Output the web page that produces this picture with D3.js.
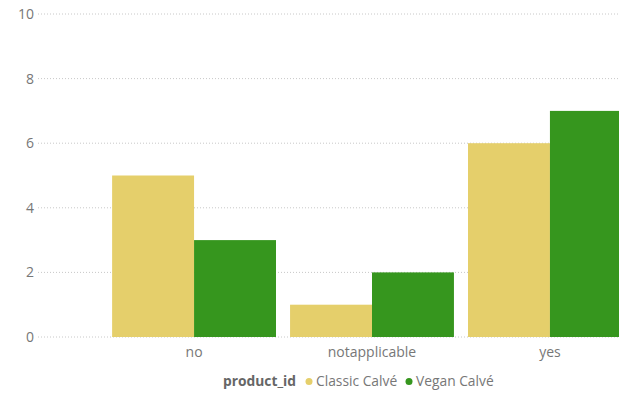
<!DOCTYPE html>
<html>
<meta charset="utf-8">
<style>
  body { margin: 0; background: #fff; font-family: "Open Sans", "Noto Sans", sans-serif; }
  .grid line { stroke: #c8c8c8; stroke-dasharray: 1 2; }
  .tick text { fill: #777; font-size: 14px; }
</style>
<body>
<div id="chart"></div>
<script src="https://d3js.org/d3.v7.min.js"></script>
<script>
  const categories = ["no", "notapplicable", "yes"];
  const seriesNames = ["Classic Calvé", "Vegan Calvé"];
  const classicValues = [5, 1, 6];
  const veganValues = [3, 2, 7];
  const yTicks = [0, 2, 4, 6, 8, 10];
  const colors = ["#e5cf6b", "#36961e"];

  const width = 619, height = 395;

  const svg = d3.select("#chart").append("svg")
    .attr("width", width)
    .attr("height", height);

  const y = d3.scaleLinear().domain([0, 10]).range([337, 14]);
  const x = d3.scaleBand().domain(categories).range([105, 639])
    .paddingInner(0.079).paddingOuter(0.04);
  const xs = d3.scaleBand().domain(seriesNames).range([0, x.bandwidth()]);

  // gridlines + y labels
  const grid = svg.append("g").attr("class", "grid");
  grid.selectAll("line").data(yTicks).join("line")
    .attr("x1", 38).attr("x2", width)
    .attr("y1", d => y(d)).attr("y2", d => y(d));

  svg.append("g").attr("class", "tick")
    .selectAll("text").data(yTicks).join("text")
    .attr("x", 34).attr("y", d => y(d)).attr("dy", "0.35em")
    .attr("text-anchor", "end")
    .text(d => d);

  // bars
  const rows = categories.map((c, i) => ({ cat: c, vals: [classicValues[i], veganValues[i]] }));
  const groups = svg.append("g").selectAll("g").data(rows).join("g")
    .attr("transform", d => `translate(${x(d.cat)},0)`);
  groups.selectAll("rect").data(d => d.vals.map((v, j) => ({ s: seriesNames[j], v, j })))
    .join("rect")
    .attr("x", d => xs(d.s))
    .attr("width", xs.bandwidth())
    .attr("y", d => y(d.v))
    .attr("height", d => y(0) - y(d.v))
    .attr("fill", d => colors[d.j]);

  // x labels
  svg.append("g").attr("class", "tick")
    .selectAll("text").data(categories).join("text")
    .attr("x", d => x(d) + x.bandwidth() / 2)
    .attr("y", 357)
    .attr("text-anchor", "middle")
    .text(d => d);

  // legend
  const legend = svg.append("g").attr("transform", "translate(223,386)");
  legend.append("text").text("product_id")
    .attr("font-size", 13.8).attr("font-weight", "bold").attr("fill", "#666");
  const items = [{ n: seriesNames[0], x: 86 }, { n: seriesNames[1], x: 186 }];
  items.forEach((it, i) => {
    legend.append("circle").attr("cx", it.x).attr("cy", -4.5).attr("r", 3.5).attr("fill", colors[i]);
    legend.append("text").attr("x", it.x + 7).text(it.n)
      .attr("font-size", 13.8).attr("fill", "#777");
  });
</script>
</body>
</html>
